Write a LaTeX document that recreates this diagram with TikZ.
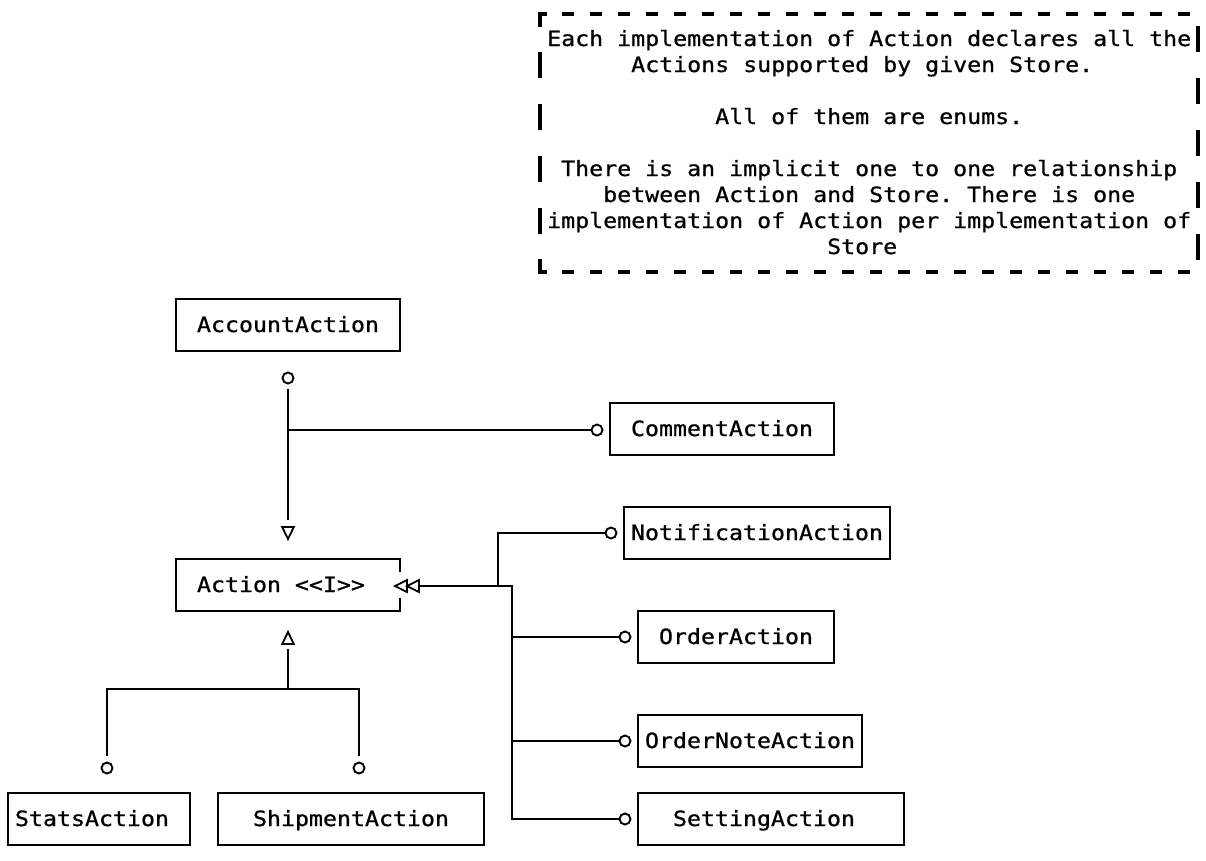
\documentclass[tikz,border=0pt]{standalone}
\usepackage{fontspec}
\usepackage{graphicx}
\newfontfamily\monofam{DejaVu Sans Mono}[FakeBold=0.8]
\usetikzlibrary{calc}
\newcommand\stretchtxt[1]{\scalebox{1.10733}[1]{#1}}
\frenchspacing
\begin{document}
\begin{tikzpicture}[x=1pt,y=-1pt,
  every node/.style={font=\monofam\fontsize{21}{26}\selectfont\frenchspacing},
  box/.style={draw, line width=2pt, rectangle, outer sep=0pt, minimum height=52pt,
    text height=14pt, text depth=0pt, align=left, inner ysep=0pt},
  notetxt/.style={anchor=base west, inner sep=0pt},
  ring/.style={circle, draw, fill=white, line width=1.9pt, inner sep=0pt, minimum size=11pt},
  wire/.style={line width=2.2pt},
  opentri/.style={line width=1.8pt, line join=miter},
  noteline/.style={line width=3.8pt}
]
\fill[white] (0,0) rectangle (1206,860);
\useasboundingbox (0,0) rectangle (1206,860);

% ---------- note ----------
\draw[noteline] (547,14) -- (540,14) -- (540,27);
\draw[noteline] (540,259) -- (540,272) -- (547,272);
\foreach \c in {40,42,...,84} {
  \draw[noteline] ({8+14*\c-6},14) -- ({8+14*\c+6},14);
  \draw[noteline] ({8+14*\c-6},272) -- ({8+14*\c+6},272);
}
\foreach \r in {2,4,6,8} { \draw[noteline] (540,{13+26*\r-13}) -- (540,{13+26*\r+13}); }
\foreach \r in {1,3,5,7,9} { \draw[noteline] (1198,{13+26*\r-13}) -- (1198,{13+26*\r+13}); }

\node[notetxt] (n1) at (547,46) {\stretchtxt{Each implementation of Action declares all the}};
\node[notetxt] (n2) at (631,72) {\stretchtxt{Actions supported by given Store.}};
\node[notetxt] (n3) at (715,124) {\stretchtxt{All of them are enums.}};
\node[notetxt] (n4) at (561,176) {\stretchtxt{There is an implicit one to one relationship}};
\node[notetxt] (n5) at (603,202) {\stretchtxt{between Action and Store.\hspace*{12.643pt}There is one}};
\node[notetxt] (n6) at (547,228) {\stretchtxt{implementation of Action per implementation of}};
\node[notetxt] (n7) at (827,254) {\stretchtxt{Store}};

% ---------- boxes ----------
\node[box, inner xsep=21pt, text width=182pt] (acc) at (288,325) {\stretchtxt{AccountAction}};
\node[box, inner xsep=21pt, text width=182pt] (com) at (722,429) {\stretchtxt{CommentAction}};
\node[box, draw=none, inner xsep=21pt, text width=182pt] (act) at (288,585)
  {\stretchtxt{Action\hspace*{12.643pt}\char"3C\kern0pt\char"3C\kern0pt I\kern0pt\char"3E\kern0pt\char"3E}};
\draw[line width=2pt] ($(act.north east)+(0,13)$) -- (act.north east) -- (act.north west)
   -- (act.south west) -- (act.south east) -- ++(0,-13);
\node[box, inner xsep=7pt, text width=252pt] (notif) at (757,533) {\stretchtxt{NotificationAction}};
\node[box, inner xsep=21pt, text width=154pt] (ord) at (736,637) {\stretchtxt{OrderAction}};
\node[box, inner xsep=7pt, text width=210pt] (onote) at (750,741) {\stretchtxt{OrderNoteAction}};
\node[box, inner xsep=35pt, text width=196pt] (sett) at (771,819) {\stretchtxt{SettingAction}};
\node[box, inner xsep=7pt, text width=168pt] (stats) at (99,819) {\stretchtxt{StatsAction}};
\node[box, inner xsep=35pt, text width=196pt] (ship) at (351,819) {\stretchtxt{ShipmentAction}};

% ---------- circles ----------
\node[ring] (cAcc) at (288,378) {};
\node[ring] (cCom) at (597,430) {};
\node[ring] (cNot) at (611,533) {};
\node[ring] (cOrd) at (625,637) {};
\node[ring] (cNote) at (625,741) {};
\node[ring] (cSet) at (625,819) {};
\node[ring] (cSA) at (107,768) {};
\node[ring] (cSB) at (359,768) {};

% ---------- coordinates ----------
\coordinate (aEnd) at (288,520);
\coordinate (aJ) at (288,430);
\coordinate (tAcc) at (288,533);
\coordinate (tSt) at (288,638);
\coordinate (tL1) at (395,586);
\coordinate (tL2) at (407,586);
\coordinate (hA) at (419,586);
\coordinate (bj) at (498,586);
\coordinate (bk) at (512,586);
\coordinate (sTop) at (288,649);
\coordinate (sJ) at (288,689);

% ---------- connectors ----------
\draw[wire, shorten <=5pt] (cAcc) -- (aEnd);
\draw[wire] (aJ) -- (cCom);
\draw[opentri, shift={(tAcc)}] (-5.8,-6) -- (5.8,-6) -- (0,6) -- cycle;

\draw[opentri, shift={(tL1)}] (0,0) -- (12,-6) -- (12,6) -- cycle;
\draw[opentri, shift={(tL2)}] (0,0) -- (12,-6) -- (12,6) -- cycle;
\draw[wire] (hA) -- (bk) |- (cSet);
\draw[wire] (bj) |- (cNot);
\draw[wire] (bk |- cOrd) -- (cOrd);
\draw[wire] (bk |- cNote) -- (cNote);

\draw[opentri, shift={(tSt)}] (-5.8,6) -- (5.8,6) -- (0,-6) -- cycle;
\draw[wire] (sTop) -- (sJ);
\draw[wire, shorten <=6pt, shorten >=6pt] (cSA) |- (sJ) -| (cSB);
\end{tikzpicture}
\end{document}
